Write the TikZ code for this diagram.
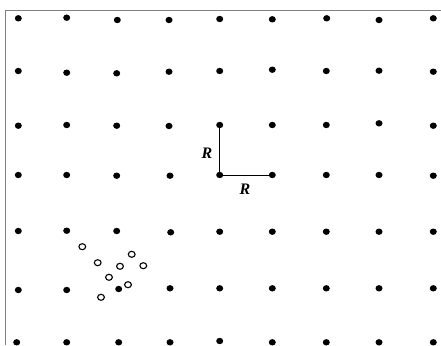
\documentclass[tikz,border=0pt]{standalone}
\usepackage{fontspec}
\setmainfont{Liberation Serif}
\usetikzlibrary{shapes.geometric}
\tikzset{
  dotpt/.style={ellipse,fill=black,inner sep=0pt,minimum width=7pt,minimum height=6.4pt},
  opencirc/.style={ellipse,draw=black,line width=1.1pt,fill=white,inner sep=0pt,minimum width=6.8pt,minimum height=6pt},
  rline/.style={draw=black,line width=1pt},
  rlabel/.style={inner sep=0pt,font=\fontsize{16}{18}\selectfont\bfseries\itshape},
  frameline/.style={draw=black!50,line width=1.5pt}
}
\begin{document}
\begin{tikzpicture}[x=1pt,y=-1pt]
\useasboundingbox (0,0) rectangle (441,345);
\clip (0,0) rectangle (441,345);
\coordinate (fa) at (5.5,345);
\coordinate (fb) at (5.5,10.7);
\coordinate (fc) at (441,10.7);
\draw[frameline] (fa) -- (fb) -- (fc);
\foreach \px/\py [count=\c] in {18.3/18.3, 66.7/17.7, 117.3/20, 169/20, 219.7/19, 272.3/19.3, 326.7/18.3, 379/20, 433.3/18.3}
  {\node[dotpt] (pa\c) at (\px,\py) {};}
\foreach \px/\py [count=\c] in {18.3/71, 66.7/72.7, 116.7/73.3, 169/71.7, 219.7/71, 272.3/69.7, 326.3/71, 379/70.7, 433.3/71.7}
  {\node[dotpt] (pb\c) at (\px,\py) {};}
\foreach \px/\py [count=\c] in {18.3/125.7, 66.7/125, 116.7/125.7, 169/126, 219.7/125, 272.3/125, 326.3/125, 379/123.3, 433.3/125.7}
  {\node[dotpt] (pc\c) at (\px,\py) {};}
\foreach \px/\py [count=\c] in {18.3/175, 66.7/175, 116.7/175.7, 170/175.7, 219.7/175, 272.3/175, 326.3/175, 379/175, 433.3/175.7}
  {\node[dotpt] (pd\c) at (\px,\py) {};}
\foreach \px/\py [count=\c] in {18.3/231, 66.7/230.7, 116.7/231, 170.7/232.3, 219.7/231.7, 272.3/231.7, 326.3/231.7, 379/231.7, 433.3/231.7}
  {\node[dotpt] (pe\c) at (\px,\py) {};}
\foreach \px/\py [count=\c] in {18.3/290, 66.7/290, 118.7/289, 170/288.3, 219.7/288.3, 272.3/288.3, 326.3/288.3, 379/288.3, 433.3/288.3}
  {\node[dotpt] (pf\c) at (\px,\py) {};}
\foreach \px/\py [count=\c] in {16.7/342.3, 66.7/342.3, 118.7/342.3, 170/342.3, 219.7/341, 272.3/342.3, 326.3/342.3, 379/342.3, 433.3/342.3}
  {\node[dotpt] (pg\c) at (\px,\py) {};}
\foreach \px/\py [count=\i] in {82.3/246.7, 97.7/262.7, 131.7/254.3, 120/266.3, 143.3/265.7, 109/277.3, 128/284.7, 101/297.3}
  {\node[opencirc] (o\i) at (\px,\py) {};}
\draw[rline] (pc5.center) -- (pd5.center) -- (pd6.center);
\node[rlabel] (rv) at (207,153.3) {R};
\node[rlabel] (rh) at (245,189) {R};
\end{tikzpicture}
\end{document}
